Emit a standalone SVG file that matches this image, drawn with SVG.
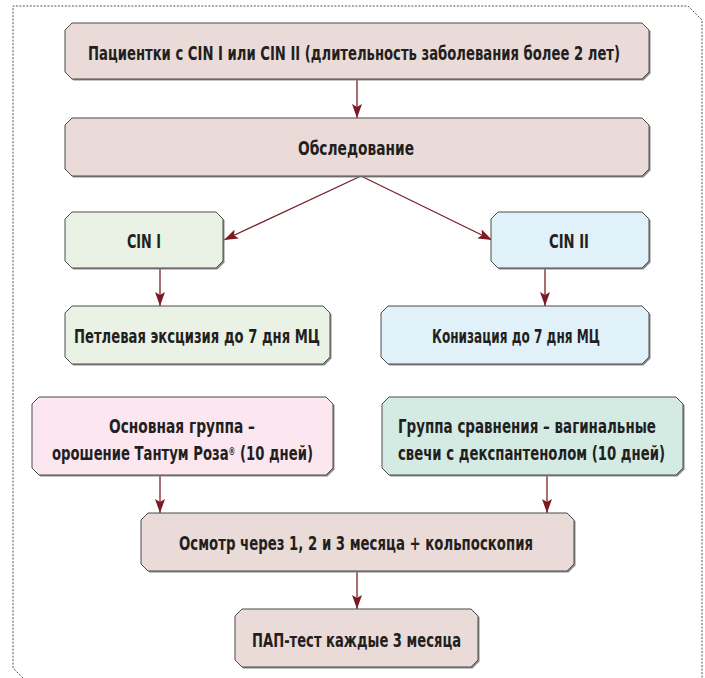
<svg xmlns="http://www.w3.org/2000/svg" width="705" height="678" viewBox="0 0 705 678">
<style>
.frame{fill:none;stroke:#555;stroke-width:1;stroke-dasharray:2 1.5}
.sh{fill:#8a8a8a;stroke:none}
.box{stroke:#4a4a4a;stroke-width:1}
.beige{fill:#eadbd8}
.green{fill:#e9f2e4}
.blue{fill:#e0f1f9}
.pink{fill:#fce7f0}
.mint{fill:#d3ebe3}
.t{font-family:"Liberation Sans Narrow","DejaVu Sans Condensed","Liberation Sans",sans-serif;font-weight:bold;font-size:19.5px;fill:#231f20;text-anchor:middle}
.c{fill:none;stroke:#7b1f2a;stroke-width:1.3;marker-end:url(#ah)}
</style>
<defs>
<marker id="ah" viewBox="0 0 14 10" refX="14" refY="5" markerWidth="14" markerHeight="10" orient="auto" markerUnits="userSpaceOnUse">
<path d="M0,0 L14,5 L0,10 L3,5 z" fill="#7b1a24"/>
</marker>
</defs>
<rect width="705" height="678" fill="#ffffff"/>
<path class="frame" d="M23,678 L13,668 L13,6 L688,6 L702,20 L702,678"/>

<g id="connectors">
<path class="c" d="M357,79 L357,118"/>
<path class="c" d="M361,176 L224,240"/>
<path class="c" d="M361,176 L492,240"/>
<path class="c" d="M160,268 L160,306"/>
<path class="c" d="M545,268 L545,306"/>
<path class="c" d="M160,475 L160,513"/>
<path class="c" d="M547,475 L547,513"/>
<path class="c" d="M357,571 L357,609"/>
</g>

<g id="n1">
<polygon class="sh" transform="translate(1.5,1.5)" points="72,23 642,23 649,30 649,72 642,79 72,79 65,72 65,30"/>
<polygon class="box beige" points="72,23 642,23 649,30 649,72 642,79 72,79 65,72 65,30"/>
<text class="t" x="354" y="60" textLength="532" lengthAdjust="spacingAndGlyphs">Пациентки с CIN I или CIN II (длительность заболевания более 2 лет)</text>
</g>

<g id="n2">
<polygon class="sh" transform="translate(1.5,1.5)" points="72,118 642,118 649,125 649,169 642,176 72,176 65,169 65,125"/>
<polygon class="box beige" points="72,118 642,118 649,125 649,169 642,176 72,176 65,169 65,125"/>
<text class="t" x="356" y="155" textLength="116" lengthAdjust="spacingAndGlyphs">Обследование</text>
</g>

<g id="n3">
<polygon class="sh" transform="translate(1.5,1.5)" points="72,212 216,212 223,219 223,261 216,268 72,268 65,261 65,219"/>
<polygon class="box green" points="72,212 216,212 223,219 223,261 216,268 72,268 65,261 65,219"/>
<text class="t" x="144" y="248" textLength="34" lengthAdjust="spacingAndGlyphs">CIN I</text>
</g>

<g id="n4">
<polygon class="sh" transform="translate(1.5,1.5)" points="498,212 642,212 649,219 649,261 642,268 498,268 491,261 491,219"/>
<polygon class="box blue" points="498,212 642,212 649,219 649,261 642,268 498,268 491,261 491,219"/>
<text class="t" x="569" y="248" textLength="40" lengthAdjust="spacingAndGlyphs">CIN II</text>
</g>

<g id="n5">
<polygon class="sh" transform="translate(1.5,1.5)" points="72,306 323,306 330,313 330,357 323,364 72,364 65,357 65,313"/>
<polygon class="box green" points="72,306 323,306 330,313 330,357 323,364 72,364 65,357 65,313"/>
<text class="t" x="197" y="343" textLength="246" lengthAdjust="spacingAndGlyphs">Петлевая эксцизия до 7 дня МЦ</text>
</g>

<g id="n6">
<polygon class="sh" transform="translate(1.5,1.5)" points="388,306 642,306 649,313 649,357 642,364 388,364 381,357 381,313"/>
<polygon class="box blue" points="388,306 642,306 649,313 649,357 642,364 388,364 381,357 381,313"/>
<text class="t" x="516" y="343" textLength="168" lengthAdjust="spacingAndGlyphs">Конизация до 7 дня МЦ</text>
</g>

<g id="n7">
<polygon class="sh" transform="translate(1.5,1.5)" points="39,397 326,397 333,404 333,468 326,475 39,475 32,468 32,404"/>
<polygon class="box pink" points="39,397 326,397 333,404 333,468 326,475 39,475 32,468 32,404"/>
<text class="t" x="182" y="433" textLength="146" lengthAdjust="spacingAndGlyphs">Основная группа –</text>
<text class="t" x="182.5" y="460" textLength="261" lengthAdjust="spacingAndGlyphs">орошение Тантум Роза<tspan font-size="10" baseline-shift="super">®</tspan> (10 дней)</text>
</g>

<g id="n8">
<polygon class="sh" transform="translate(1.5,1.5)" points="389,397 676,397 683,404 683,468 676,475 389,475 382,468 382,404"/>
<polygon class="box mint" points="389,397 676,397 683,404 683,468 676,475 389,475 382,468 382,404"/>
<text class="t" x="527" y="433" textLength="258" lengthAdjust="spacingAndGlyphs">Группа сравнения – вагинальные</text>
<text class="t" x="531.5" y="460" textLength="267" lengthAdjust="spacingAndGlyphs">свечи с декспантенолом (10 дней)</text>
</g>

<g id="n9">
<polygon class="sh" transform="translate(1.5,1.5)" points="148,513 567,513 574,520 574,564 567,571 148,571 141,564 141,520"/>
<polygon class="box beige" points="148,513 567,513 574,520 574,564 567,571 148,571 141,564 141,520"/>
<text class="t" x="356" y="550" textLength="354" lengthAdjust="spacingAndGlyphs">Осмотр через 1, 2 и 3 месяца + кольпоскопия</text>
</g>

<g id="n10">
<polygon class="sh" transform="translate(1.5,1.5)" points="242,609 471,609 478,616 478,660 471,667 242,667 235,660 235,616"/>
<polygon class="box beige" points="242,609 471,609 478,616 478,660 471,667 242,667 235,660 235,616"/>
<text class="t" x="356.5" y="647" textLength="209" lengthAdjust="spacingAndGlyphs">ПАП-тест каждые 3 месяца</text>
</g>
</svg>
